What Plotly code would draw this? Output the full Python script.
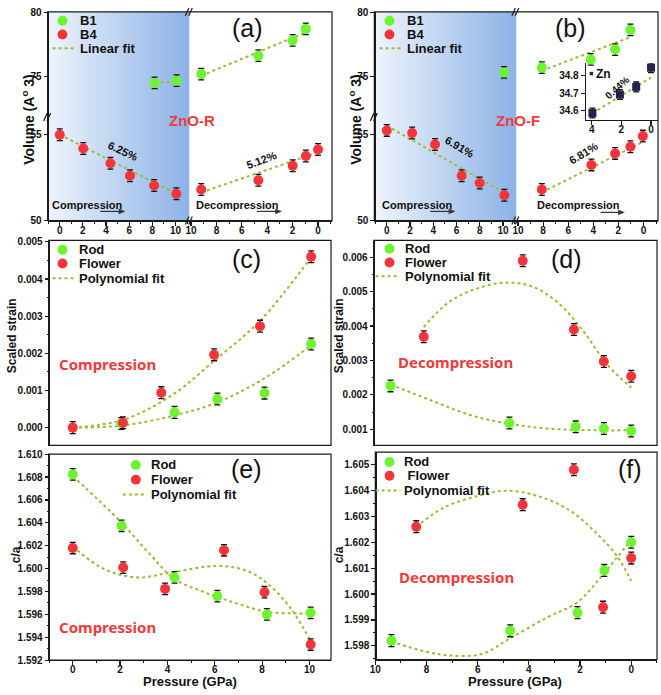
import plotly.graph_objects as go

W, H = 661, 695
def X(p): return p / W
def Y(p): return 1 - p / H

FONT = "Liberation Sans"
GREEN = "#6cf52f"
RED = "#f8343a"
FITC = "#9cba3a"
NAVY = "#23234d"
AXC = "#1a1a1a"

# ---------------- data ----------------
# (a) ZnO-R cell volume (A^3) vs pressure (GPa)
a_b1_comp_p = [8.2, 10.1]
a_b1_comp_v = [74.49, 74.67]
a_b1_dec_p = [9.2, 4.7, 2.0, 0.96]
a_b1_dec_v = [75.18, 76.62, 77.82, 78.72]
a_b4_comp_p = [0.0, 2.03, 4.38, 6.07, 8.16, 10.08]
a_b4_comp_v = [55.0, 54.2, 53.34, 52.61, 52.04, 51.56]
a_b4_dec_p = [9.2, 4.7, 2.0, 0.96, 0.0]
a_b4_dec_v = [51.81, 52.35, 53.19, 53.76, 54.14]
a_fit_b1_comp_p = [8.2, 10.1]
a_fit_b1_comp_v = [74.47, 74.65]
a_fit_b1_dec_p = [9.2, 0.96]
a_fit_b1_dec_v = [75.05, 78.45]
a_fit_b4_comp_p = [0.0, 10.1]
a_fit_b4_comp_v = [55.0, 51.55]
a_fit_b4_dec_p = [9.2, 0.0]
a_fit_b4_dec_v = [51.64, 53.97]

# (b) ZnO-F cell volume
b_b1_comp_p = [10.08]
b_b1_comp_v = [75.31]
b_b1_dec_p = [8.1, 4.2, 2.26, 1.04]
b_b1_dec_v = [75.69, 76.33, 77.1, 78.64]
b_b4_comp_p = [0.0, 2.18, 4.15, 6.44, 7.99, 10.11]
b_b4_comp_v = [55.25, 55.1, 54.43, 52.61, 52.19, 51.47]
b_b4_dec_p = [8.1, 4.15, 2.26, 1.04, 0.05]
b_b4_dec_v = [51.81, 53.24, 53.91, 54.3, 54.92]
b_fit_b1_dec_p = [8.1, 1.04]
b_fit_b1_dec_v = [75.44, 78.08]
b_fit_b4_comp_p = [0.0, 10.1]
b_fit_b4_comp_v = [55.53, 51.62]
b_fit_b4_dec_p = [8.1, 0.05]
b_fit_b4_dec_v = [51.64, 54.58]
# inset: Zn volume
zn_p = [3.95, 2.1, 1.0, 0.0]
zn_v = [34.586, 34.692, 34.736, 34.846]
zn_fit_p = [3.95, 0.0]
zn_fit_v = [34.585, 34.79]

# (c) scaled strain, compression
c_rod_p = [2.05, 4.3, 6.11, 8.1, 10.07]
c_rod_s = [0.00011, 0.00041, 0.00077, 0.00093, 0.00225]
c_flw_p = [0.0, 2.12, 3.74, 5.97, 7.91, 10.07]
c_flw_s = [0.0, 0.00013, 0.00094, 0.00196, 0.00273, 0.0046]
c_fit_rod_p = [0.0, 2.13, 4.3, 6.11, 8.13, 10.0]
c_fit_rod_s = [0.0, 0.00006, 0.00033, 0.00068, 0.00134, 0.00218]
c_fit_flw_p = [0.0, 2.13, 4.16, 6.11, 7.92, 10.0]
c_fit_flw_s = [0.0, 0.00021, 0.00086, 0.00187, 0.00288, 0.00452]

# (d) scaled strain, decompression
d_rod_p = [9.41, 4.76, 2.17, 1.07, 0.0]
d_rod_s = [0.00226, 0.00118, 0.00107, 0.00102, 0.00095]
d_flw_p = [8.11, 4.24, 2.24, 1.07, 0.0]
d_flw_s = [0.00369, 0.0059, 0.0039, 0.00297, 0.00254]
d_fit_rod_p = [9.41, 7.79, 6.24, 4.76, 3.27, 1.33, 0.0]
d_fit_rod_s = [0.0023, 0.00183, 0.0014, 0.00116, 0.00102, 0.00097, 0.00097]
d_fit_flw_p = [8.11, 7.14, 6.11, 4.95, 3.91, 2.88, 1.85, 0.94, 0.0]
d_fit_flw_s = [0.00397, 0.00469, 0.00507, 0.00526, 0.00516, 0.00469, 0.00383, 0.00288, 0.00221]

# (e) c/a, compression
e_rod_p = [0.0, 2.06, 4.3, 6.11, 8.2, 10.05]
e_rod_r = [1.60823, 1.60374, 1.59923, 1.5976, 1.596, 1.59614]
e_flw_p = [0.0, 2.13, 3.9, 6.39, 8.1, 10.05]
e_flw_r = [1.6018, 1.60009, 1.59823, 1.6016, 1.59794, 1.59337]
e_fit_rod_p = [0.0, 2.02, 3.21, 4.3, 5.56, 6.96, 8.2, 9.45, 10.05]
e_fit_rod_r = [1.60809, 1.60409, 1.60137, 1.59909, 1.59794, 1.59694, 1.59623, 1.59609, 1.59609]
e_fit_flw_p = [0.0, 1.35, 2.74, 4.14, 6.09, 7.36, 8.34, 9.31, 10.05]
e_fit_flw_r = [1.60194, 1.59994, 1.59923, 1.59966, 1.60023, 1.5998, 1.59851, 1.59623, 1.59366]

# (f) c/a, decompression
f_rod_p = [9.37, 4.73, 2.1, 1.05, 0.0]
f_rod_r = [1.5982, 1.59858, 1.59928, 1.60091, 1.602]
f_flw_p = [8.4, 4.24, 2.24, 1.1, 0.0]
f_flw_r = [1.6026, 1.60345, 1.6048, 1.59949, 1.60139]
f_fit_rod_p = [9.37, 8.05, 7.14, 5.85, 4.73, 3.26, 2.1, 1.05, 0.0]
f_fit_rod_r = [1.59816, 1.59778, 1.59763, 1.59768, 1.59829, 1.59911, 1.59968, 1.60082, 1.60209]
f_fit_flw_p = [8.4, 7.3, 5.95, 4.9, 3.7, 2.4, 1.35, 0.55, 0.0]
f_fit_flw_r = [1.6026, 1.60335, 1.6038, 1.60399, 1.6038, 1.60323, 1.60234, 1.60146, 1.60051]

# error bar half-widths
ERR_B1, ERR_B4, ERR_ZN = 0.45, 0.34, 0.028
ERR_C, ERR_D, ERR_E, ERR_F = 0.00016, 0.00017, 0.0005, 0.00023

fig = go.Figure()

def fit(x, y, xa, ya, shape="spline"):
    fig.add_trace(go.Scatter(x=x, y=y, xaxis=xa, yaxis=ya, mode="lines",
                             line=dict(color=FITC, width=2, dash="dot", shape=shape),
                             showlegend=False, hoverinfo="skip"))

def pts(x, y, xa, ya, color, err, symbol="circle", size=10):
    fig.add_trace(go.Scatter(x=x, y=y, xaxis=xa, yaxis=ya, mode="markers",
                             marker=dict(color=color, size=size, symbol=symbol, line=dict(width=0)),
                             error_y=dict(type="constant", value=err, color="#111", thickness=1.3, width=3),
                             showlegend=False, hoverinfo="skip", cliponaxis=False))

# (a)
fit(a_fit_b1_comp_p, a_fit_b1_comp_v, "x", "y", "linear")
fit(a_fit_b1_dec_p, a_fit_b1_dec_v, "x2", "y", "linear")
fit(a_fit_b4_comp_p, a_fit_b4_comp_v, "x", "y2", "linear")
fit(a_fit_b4_dec_p, a_fit_b4_dec_v, "x2", "y2", "linear")
pts(a_b1_comp_p, a_b1_comp_v, "x", "y", GREEN, ERR_B1)
pts(a_b1_dec_p, a_b1_dec_v, "x2", "y", GREEN, ERR_B1)
pts(a_b4_comp_p, a_b4_comp_v, "x", "y2", RED, ERR_B4)
pts(a_b4_dec_p, a_b4_dec_v, "x2", "y2", RED, ERR_B4)
# (b)
fit(b_fit_b1_dec_p, b_fit_b1_dec_v, "x4", "y3", "linear")
fit(b_fit_b4_comp_p, b_fit_b4_comp_v, "x3", "y4", "linear")
fit(b_fit_b4_dec_p, b_fit_b4_dec_v, "x4", "y4", "linear")
pts(b_b1_comp_p, b_b1_comp_v, "x3", "y3", GREEN, ERR_B1)
pts(b_b1_dec_p, b_b1_dec_v, "x4", "y3", GREEN, ERR_B1)
pts(b_b4_comp_p, b_b4_comp_v, "x3", "y4", RED, ERR_B4)
pts(b_b4_dec_p, b_b4_dec_v, "x4", "y4", RED, ERR_B4)
fit(zn_fit_p, zn_fit_v, "x5", "y5", "linear")
pts(zn_p, zn_v, "x5", "y5", NAVY, ERR_ZN, symbol="square", size=8)
# (c)
fit(c_fit_rod_p, c_fit_rod_s, "x6", "y6")
fit(c_fit_flw_p, c_fit_flw_s, "x6", "y6")
pts(c_rod_p, c_rod_s, "x6", "y6", GREEN, ERR_C)
pts(c_flw_p, c_flw_s, "x6", "y6", RED, ERR_C)
# (d)
fit(d_fit_rod_p, d_fit_rod_s, "x7", "y7")
fit(d_fit_flw_p, d_fit_flw_s, "x7", "y7")
pts(d_rod_p, d_rod_s, "x7", "y7", GREEN, ERR_D)
pts(d_flw_p, d_flw_s, "x7", "y7", RED, ERR_D)
# (e)
fit(e_fit_rod_p, e_fit_rod_r, "x8", "y8")
fit(e_fit_flw_p, e_fit_flw_r, "x8", "y8")
pts(e_rod_p, e_rod_r, "x8", "y8", GREEN, ERR_E)
pts(e_flw_p, e_flw_r, "x8", "y8", RED, ERR_E)
# (f)
fit(f_fit_rod_p, f_fit_rod_r, "x9", "y9")
fit(f_fit_flw_p, f_fit_flw_r, "x9", "y9")
pts(f_rod_p, f_rod_r, "x9", "y9", GREEN, ERR_F)
pts(f_flw_p, f_flw_r, "x9", "y9", RED, ERR_F)

# ---------------- axes ----------------
TF = dict(family=FONT, size=10, color="#111", weight="bold")

def xax(x0, x1, ybottom, rng, tickvals=None, labels=True, minor=None, ticks=True):
    d = dict(domain=[X(x0), X(x1)], range=rng, anchor="free", position=Y(ybottom),
             showgrid=False, zeroline=False, showline=True, linecolor=AXC, linewidth=1.2,
             ticks="outside" if ticks else "", ticklen=4, tickwidth=1.2, tickcolor=AXC,
             tickfont=TF, showticklabels=labels, fixedrange=True, ticklabelstandoff=-4)
    if tickvals is not None:
        d.update(tickmode="array", tickvals=tickvals)
    if minor:
        d["minor"] = dict(ticks="outside", ticklen=2, tickwidth=1, tickcolor=AXC, dtick=minor, tick0=0)
    return d

def yax(y0, y1, xleft, rng, tickvals, fmt=None, minor=None):
    d = dict(domain=[Y(y1), Y(y0)], range=rng, anchor="free", position=X(xleft),
             showgrid=False, zeroline=False, showline=True, linecolor=AXC, linewidth=1.2,
             ticks="outside", ticklen=4, tickwidth=1.2, tickcolor=AXC,
             tickfont=TF, tickmode="array", tickvals=tickvals, fixedrange=True)
    if fmt:
        d["tickformat"] = fmt
    if minor:
        d["minor"] = dict(ticks="outside", ticklen=2, tickwidth=1, tickcolor=AXC, dtick=minor, tick0=0)
    return d

P10 = [0, 2, 4, 6, 8, 10]
layout_axes = dict(
    xaxis=xax(42, 184.3, 218.3, [-1.05, 11.14], P10, minor=1),
    xaxis2=xax(184.3, 329, 218.3, [10.19, -1.1], P10, minor=1),
    yaxis=yax(6, 113, 42, [71.82, 80.05], [75, 80]),
    yaxis2=yax(113, 218.3, 42, [50, 56.03], [50, 55]),
    xaxis3=xax(371.7, 514.3, 218.3, [-1.07, 11.08], P10, minor=1),
    xaxis4=xax(514.3, 658, 218.3, [10.19, -1.16], P10, minor=1),
    yaxis3=yax(6, 113, 371.7, [71.82, 80.05], [75, 80]),
    yaxis4=yax(113, 218.3, 371.7, [50, 56.03], [50, 55]),
    xaxis5=xax(584, 658, 115.5, [4.47, -0.47], [0, 2, 4]),
    yaxis5=yax(58, 115.5, 584, [34.549, 34.873], [34.6, 34.7, 34.8], fmt=".1f"),
    xaxis6=xax(43, 328, 447, [-1.02, 10.91], labels=False, ticks=False),
    yaxis6=yax(238.5, 447, 43, [-0.000476, 0.00504], [0, 0.001, 0.002, 0.003, 0.004, 0.005], fmt=".3f", minor=0.0005),
    xaxis7=xax(371, 657, 447, [10.07, -1.01], labels=False, ticks=False),
    yaxis7=yax(238.5, 447, 371, [0.000534, 0.00649], [0.001, 0.002, 0.003, 0.004, 0.005, 0.006], fmt=".3f", minor=0.0005),
    xaxis8=xax(43, 328, 665.7, [-1.02, 10.91], P10, minor=1),
    yaxis8=yax(456, 665.7, 43, [1.592, 1.610], [1.592, 1.594, 1.596, 1.598, 1.600, 1.602, 1.604, 1.606, 1.608, 1.610], fmt=".3f", minor=0.001),
    xaxis9=xax(372.7, 657, 665, [10, -1.01], P10, minor=1),
    yaxis9=yax(454, 665, 372.7, [1.59747, 1.60548], [1.598, 1.599, 1.600, 1.601, 1.602, 1.603, 1.604, 1.605], fmt=".3f", minor=0.0005),
)

shapes = []
# gradient background on compression halves of (a) and (b)
def gradient(x0, x1, y0, y1, n=48):
    c0 = (238, 244, 252)
    c1 = (140, 178, 230)
    w = (x1 - x0) / n
    for i in range(n):
        t = (i + 0.5) / n
        c = tuple(int(round(c0[k] + (c1[k] - c0[k]) * t)) for k in range(3))
        shapes.append(dict(type="rect", xref="paper", yref="paper", layer="below",
                           x0=X(x0 + i * w), x1=X(x0 + (i + 1) * w + 0.6), y0=Y(y1), y1=Y(y0),
                           line=dict(width=0), fillcolor="rgb(%d,%d,%d)" % c))
gradient(42, 184.3, 6, 218.3)
gradient(371.7, 514.3, 6, 218.3)

def frame(x0, x1, y0, y1, w=1.2):
    shapes.append(dict(type="rect", xref="paper", yref="paper", x0=X(x0), x1=X(x1), y0=Y(y1), y1=Y(y0),
                       line=dict(color=AXC, width=w), fillcolor="rgba(0,0,0,0)"))
frame(42, 329, 6, 218.3)
frame(371.7, 658, 6, 218.3)
frame(43, 328, 238.5, 447)
frame(371, 657, 238.5, 447)
frame(43, 328, 456, 665.7)
frame(372.7, 657, 454, 665)

def brk(x, y):
    for dx in (-2.2, 1.2):
        shapes.append(dict(type="line", xref="paper", yref="paper",
                           x0=X(x + dx - 1.8), y0=Y(y + 4), x1=X(x + dx + 1.8), y1=Y(y - 4),
                           line=dict(color=AXC, width=1.2)))
for bx in (185, 514.5):
    brk(bx, 6)
    brk(bx, 218.3)
brk(42, 113)
brk(371.7, 113)

# small arrows under Compression / Decompression labels
def arrow(x0, x1, y):
    shapes.append(dict(type="line", xref="paper", yref="paper", x0=X(x0), x1=X(x1 - 4), y0=Y(y), y1=Y(y),
                       line=dict(color="#333", width=1.2)))
    path = "M %f %f L %f %f L %f %f Z" % (X(x1), Y(y), X(x1 - 6), Y(y - 2.5), X(x1 - 6), Y(y + 2.5))
    shapes.append(dict(type="path", xref="paper", yref="paper", path=path,
                       line=dict(color="#333", width=0.5), fillcolor="#333"))
for x0, x1, y in [(95, 120, 209), (253, 278, 209), (428, 453, 209), (600, 624, 210)]:
    arrow(x0, x1, y)

def leg(sym_x, dash_x0, dash_x1, rows, txt_x, labels, colors, r=5):
    anns = []
    for k, (ry, lab) in enumerate(zip(rows, labels)):
        if k < len(colors):
            shapes.append(dict(type="circle", xref="paper", yref="paper",
                               x0=X(sym_x - r), x1=X(sym_x + r), y0=Y(ry + r), y1=Y(ry - r),
                               line=dict(width=0), fillcolor=colors[k]))
        else:
            shapes.append(dict(type="line", xref="paper", yref="paper",
                               x0=X(dash_x0), x1=X(dash_x1), y0=Y(ry), y1=Y(ry),
                               line=dict(color=FITC, width=2, dash="dot")))
        anns.append(dict(x=X(txt_x), y=Y(ry), text=lab, xanchor="left", yanchor="middle",
                         font=dict(family=FONT, size=13, color="#111", weight="bold")))
    return anns

annotations = []
annotations += leg(57, 47, 70, [15, 29, 43], 73, ["B1", "B4", "Linear fit"], [GREEN, RED])
annotations += leg(387, 377, 400, [15, 29, 43], 403, ["B1", "B4", "Linear fit"], [GREEN, RED])
annotations += leg(57, 47, 70, [248, 262, 277], 72, ["Rod", "Flower", "Polynomial fit"], [GREEN, RED])
annotations += leg(387, 373, 397, [247, 261, 275], 401, ["Rod", "Flower", "Polynomial fit"], [GREEN, RED])
annotations += leg(131, 118, 140, [467, 482, 497], 144, ["Rod", "Flower", "Polynomial fit"], [GREEN, RED])
annotations += leg(387, 373, 398, [464, 478, 493], 400, ["Rod", " Flower", "Polynomial fit"], [GREEN, RED])
# inset legend symbol
shapes.append(dict(type="rect", xref="paper", yref="paper", x0=X(589), x1=X(592.5), y0=Y(70.5), y1=Y(67),
                   line=dict(width=0), fillcolor=NAVY))

def txt(x, y, s, size=11, color="#111", angle=0, family=FONT, weight="bold", xanchor="center"):
    annotations.append(dict(x=X(x), y=Y(y), text=s, textangle=angle, xanchor=xanchor, yanchor="middle",
                            font=dict(family=family, size=size, color=color, weight=weight)))

txt(603, 69, "Zn", 12)
# panel tags
txt(244, 22, "(a)", 25, weight="normal")
txt(570, 22, "(b)", 25, weight="normal")
txt(243, 257, "(c)", 25, weight="normal")
txt(566, 257, "(d)", 25, weight="normal")
txt(243, 471, "(e)", 25, weight="normal")
txt(630, 471, "(f)", 25, weight="normal")
# sample names
txt(188, 117, "ZnO-R", 15, color="#f23a3a")
txt(517, 117, "ZnO-F", 15, color="#f23a3a")
# percentages
txt(118, 148, "6.25%", 11, angle=25)
txt(258, 157, "5.12%", 11, angle=-20)
txt(458, 143, "6.91%", 11, angle=30)
txt(583, 150, "6.81%", 11, angle=-32)
txt(617, 83, "0.44%", 10, angle=-42)
# compression / decompression labels in (a), (b)
txt(82, 202, "Compression", 11)
txt(234, 202, "Decompression", 11)
txt(415, 202, "Compression", 11)
txt(578, 203, "Decompression", 11)
# red labels in (c)-(f)
RF = "Noto Sans"
txt(102, 364, "Compression", 15, color="#f23a3a", family=RF)
txt(454, 362, "Decompression", 15, color="#f23a3a", family=RF)
txt(102, 632, "Compression", 15, color="#f23a3a", family=RF)
txt(455, 581, "Decompression", 15, color="#f23a3a", family=RF)
# axis titles
txt(22, 115, "Volume (A<sup>o</sup> 3)", 14, angle=-90)
txt(352, 115, "Volume (A<sup>o</sup> 3)", 14, angle=-90)
txt(6, 335, "Scaled strain", 12, angle=-90)
txt(336, 335, "Scaled strain", 12, angle=-90)
txt(10, 558, "c/a", 12, angle=-90)
txt(336, 558, "c/a", 12, angle=-90)
txt(186, 687, "Pressure (GPa)", 13)
txt(514, 687, "Pressure (GPa)", 13)

for a in annotations:
    a.setdefault("xref", "paper")
    a.setdefault("yref", "paper")
    a.setdefault("showarrow", False)

fig.update_layout(width=W, height=H, margin=dict(l=0, r=0, t=0, b=0),
                  paper_bgcolor="white", plot_bgcolor="rgba(0,0,0,0)",
                  showlegend=False, shapes=shapes, annotations=annotations,
                  font=dict(family=FONT), **layout_axes)

fig.write_html("out.html", config={"displayModeBar": False, "staticPlot": True},
               post_script="document.body.style.margin='0';document.body.style.padding='0';")
